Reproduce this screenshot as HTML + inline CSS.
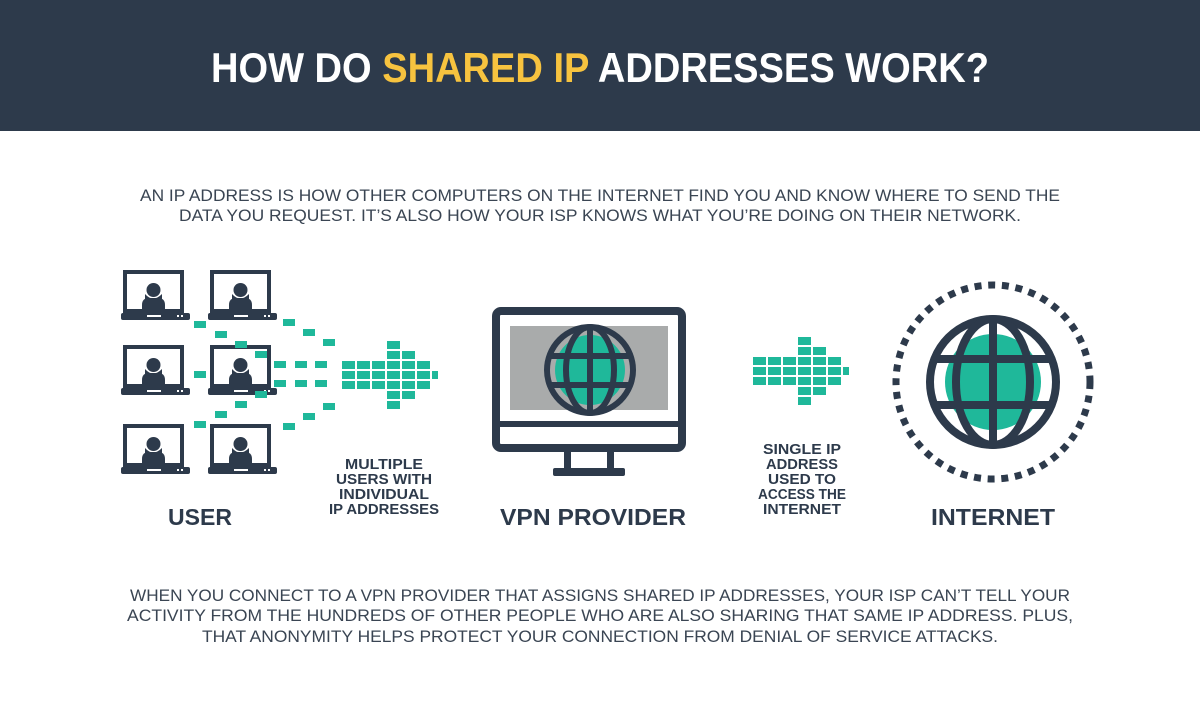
<!DOCTYPE html>
<html><head><meta charset="utf-8"><style>
html,body{margin:0;padding:0;background:#fff;width:1200px;height:702px;overflow:hidden}
svg{display:block}
text{font-family:"Liberation Sans",sans-serif}
</style></head><body>
<svg width="1200" height="702" viewBox="0 0 1200 702" xmlns="http://www.w3.org/2000/svg">
<defs>
<g id="lap">
 <rect x="4" y="2" width="57" height="39" fill="#fff" stroke="#2d3a4b" stroke-width="4"/>
 <circle cx="32.5" cy="20" r="7" fill="#2d3a4b"/>
 <path d="M21 41 L21 35 Q21 28 28 28 L37 28 Q44 28 44 35 L44 41 Z" fill="#2d3a4b"/>
 <path d="M24 24 Q32 33 41 24 L41 29 L24 29Z" fill="#2d3a4b"/>
 <rect x="0" y="43" width="69" height="7" rx="2" fill="#2d3a4b"/>
 <rect x="26" y="45" width="14" height="2" fill="#fff"/>
 <rect x="56" y="45" width="2" height="2" fill="#fff"/><rect x="60" y="45" width="2" height="2" fill="#fff"/>
</g>
<g id="arr" fill="#1fb89a">
<rect x="0" y="21" width="13" height="8"/><rect x="0" y="31" width="13" height="8"/><rect x="0" y="41" width="13" height="8"/>
<rect x="15" y="21" width="13" height="8"/><rect x="15" y="31" width="13" height="8"/><rect x="15" y="41" width="13" height="8"/>
<rect x="30" y="21" width="13" height="8"/><rect x="30" y="31" width="13" height="8"/><rect x="30" y="41" width="13" height="8"/>
<rect x="45" y="1" width="13" height="8"/><rect x="45" y="11" width="13" height="8"/><rect x="45" y="21" width="13" height="8"/><rect x="45" y="31" width="13" height="8"/><rect x="45" y="41" width="13" height="8"/><rect x="45" y="51" width="13" height="8"/><rect x="45" y="61" width="13" height="8"/>
<rect x="60" y="11" width="13" height="8"/><rect x="60" y="21" width="13" height="8"/><rect x="60" y="31" width="13" height="8"/><rect x="60" y="41" width="13" height="8"/><rect x="60" y="51" width="13" height="8"/>
<rect x="75" y="21" width="13" height="8"/><rect x="75" y="31" width="13" height="8"/><rect x="75" y="41" width="13" height="8"/>
<rect x="90" y="31" width="6" height="8"/>
</g>
</defs>
<rect x="0" y="0" width="1200" height="131" fill="#2d3a4b"/>
<text x="600" y="82" text-anchor="middle" font-size="42" font-weight="bold" fill="#fff" textLength="778" lengthAdjust="spacingAndGlyphs">HOW DO <tspan fill="#f7c33f">SHARED IP</tspan> ADDRESSES WORK?</text>

<g fill="#3a4553" font-size="16.5" text-anchor="middle">
<text x="600" y="201" textLength="920" lengthAdjust="spacingAndGlyphs">AN IP ADDRESS IS HOW OTHER COMPUTERS ON THE INTERNET FIND YOU AND KNOW WHERE TO SEND THE</text>
<text x="600" y="221" textLength="842" lengthAdjust="spacingAndGlyphs">DATA YOU REQUEST. IT’S ALSO HOW YOUR ISP KNOWS WHAT YOU’RE DOING ON THEIR NETWORK.</text>
<text x="600" y="601" textLength="940" lengthAdjust="spacingAndGlyphs">WHEN YOU CONNECT TO A VPN PROVIDER THAT ASSIGNS SHARED IP ADDRESSES, YOUR ISP CAN’T TELL YOUR</text>
<text x="600" y="621" textLength="946" lengthAdjust="spacingAndGlyphs">ACTIVITY FROM THE HUNDREDS OF OTHER PEOPLE WHO ARE ALSO SHARING THAT SAME IP ADDRESS. PLUS,</text>
<text x="600" y="642" textLength="796" lengthAdjust="spacingAndGlyphs">THAT ANONYMITY HELPS PROTECT YOUR CONNECTION FROM DENIAL OF SERVICE ATTACKS.</text>
</g>

<use href="#lap" x="121" y="270"/><use href="#lap" x="208" y="270"/>
<use href="#lap" x="121" y="345"/><use href="#lap" x="208" y="345"/>
<use href="#lap" x="121" y="424"/><use href="#lap" x="208" y="424"/>

<g fill="#1fb89a">
<rect x="194" y="321" width="12" height="7"/><rect x="215" y="331" width="12" height="7"/><rect x="235" y="341" width="12" height="7"/><rect x="255" y="351" width="12" height="7"/>
<rect x="283" y="319" width="12" height="7"/><rect x="303" y="329" width="12" height="7"/><rect x="323" y="339" width="12" height="7"/>
<rect x="194" y="371" width="12" height="7"/>
<rect x="274" y="361" width="12" height="7"/><rect x="295" y="361" width="12" height="7"/><rect x="315" y="361" width="12" height="7"/>
<rect x="274" y="380" width="12" height="7"/><rect x="295" y="380" width="12" height="7"/><rect x="315" y="380" width="12" height="7"/>
<rect x="255" y="391" width="12" height="7"/><rect x="235" y="401" width="12" height="7"/><rect x="215" y="411" width="12" height="7"/><rect x="194" y="421" width="12" height="7"/>
<rect x="323" y="403" width="12" height="7"/><rect x="303" y="413" width="12" height="7"/><rect x="283" y="423" width="12" height="7"/>
</g>

<use href="#arr" x="342" y="340"/>
<use href="#arr" x="753" y="336"/>

<rect x="496" y="311" width="186" height="137" rx="5" fill="#fff" stroke="#2d3a4b" stroke-width="8"/>
<rect x="510" y="326" width="158" height="84" fill="#a9abab"/>
<rect x="496" y="421" width="186" height="6" fill="#2d3a4b"/>
<rect x="564" y="448" width="7" height="20" fill="#2d3a4b"/><rect x="607" y="448" width="7" height="20" fill="#2d3a4b"/>
<rect x="553" y="468" width="72" height="8" rx="2" fill="#2d3a4b"/>
<g transform="translate(590,370)">
 <circle r="35" fill="#1fb89a"/>
 <circle r="43" fill="none" stroke="#2d3a4b" stroke-width="6"/>
 <ellipse rx="24" ry="43" fill="none" stroke="#2d3a4b" stroke-width="6"/>
 <rect x="-3" y="-43" width="6" height="86" fill="#2d3a4b"/>
 <rect x="-41" y="-17" width="82" height="6" fill="#2d3a4b"/>
 <rect x="-41" y="12" width="82" height="6" fill="#2d3a4b"/>
</g>

<g transform="translate(993,382)">
 <circle r="97" fill="none" stroke="#2d3a4b" stroke-width="7" stroke-dasharray="7 6.7"/>
 <circle r="48" fill="#1fb89a"/>
 <circle r="63" fill="none" stroke="#2d3a4b" stroke-width="8"/>
 <ellipse rx="37" ry="63" fill="none" stroke="#2d3a4b" stroke-width="8"/>
 <rect x="-4" y="-63" width="8" height="126" fill="#2d3a4b"/>
 <rect x="-61" y="-27" width="122" height="8" fill="#2d3a4b"/>
 <rect x="-61" y="19" width="122" height="8" fill="#2d3a4b"/>
</g>

<g fill="#2d3a4b" font-weight="bold" text-anchor="middle">
<text x="200" y="525" font-size="23" textLength="64" lengthAdjust="spacingAndGlyphs">USER</text>
<text x="593" y="525" font-size="23" textLength="186" lengthAdjust="spacingAndGlyphs">VPN PROVIDER</text>
<text x="993" y="525" font-size="23" textLength="124" lengthAdjust="spacingAndGlyphs">INTERNET</text>
<g font-size="14.5">
<text x="384" y="469" textLength="78" lengthAdjust="spacingAndGlyphs">MULTIPLE</text>
<text x="384" y="484" textLength="96" lengthAdjust="spacingAndGlyphs">USERS WITH</text>
<text x="384" y="499" textLength="90" lengthAdjust="spacingAndGlyphs">INDIVIDUAL</text>
<text x="384" y="514" textLength="110" lengthAdjust="spacingAndGlyphs">IP ADDRESSES</text>
<text x="802" y="454" textLength="78" lengthAdjust="spacingAndGlyphs">SINGLE IP</text>
<text x="802" y="469" textLength="72" lengthAdjust="spacingAndGlyphs">ADDRESS</text>
<text x="802" y="484" textLength="68" lengthAdjust="spacingAndGlyphs">USED TO</text>
<text x="802" y="499" textLength="88" lengthAdjust="spacingAndGlyphs">ACCESS THE</text>
<text x="802" y="514" textLength="78" lengthAdjust="spacingAndGlyphs">INTERNET</text>
</g>
</g>
</svg>
</body></html>
